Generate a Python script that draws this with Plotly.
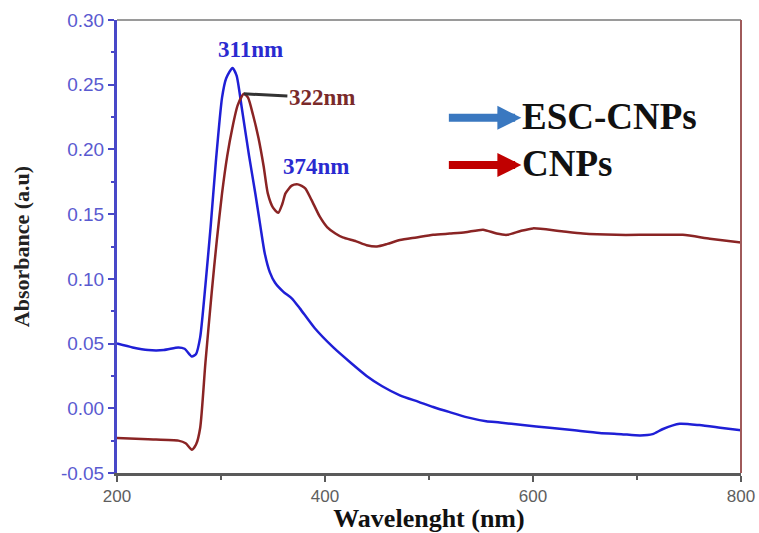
import plotly.graph_objects as go

# ESC-CNPs (blue)
esc_wl = [200, 215, 230, 245, 259, 265, 272, 276, 280, 285, 290, 295, 301, 305, 311,
          315, 320, 327, 333, 338, 342, 347, 352, 360, 368, 376, 390, 408, 425, 440,
          455, 472, 490, 504, 520, 537, 555, 568, 590, 616, 640, 664, 685, 703, 715,
          725, 741, 760, 780, 800]
esc_abs = [0.050, 0.047, 0.045, 0.045, 0.047, 0.046, 0.040, 0.042, 0.055, 0.095, 0.140,
           0.190, 0.240, 0.255, 0.263, 0.257, 0.232, 0.195, 0.166, 0.140, 0.120, 0.105,
           0.097, 0.090, 0.085, 0.077, 0.062, 0.047, 0.035, 0.025, 0.017, 0.010, 0.005,
           0.001, -0.003, -0.007, -0.010, -0.011, -0.013, -0.015, -0.017, -0.019, -0.020,
           -0.021, -0.020, -0.016, -0.012, -0.013, -0.015, -0.017]

# CNPs (dark red)
cnp_wl = [200, 230, 259, 266, 272, 276, 280, 285, 291, 296, 301, 306, 311, 316, 322,
          326, 331, 336, 341, 345, 350, 355, 359, 362, 368, 374, 381, 387, 395, 402,
          410, 417, 430, 440, 450, 460, 472, 488, 504, 520, 535, 552, 565, 575, 588,
          600, 625, 648, 680, 710, 744, 770, 800]
cnp_abs = [-0.023, -0.024, -0.025, -0.027, -0.032, -0.028, -0.015, 0.035, 0.089, 0.130,
           0.166, 0.195, 0.217, 0.234, 0.243, 0.240, 0.226, 0.209, 0.187, 0.166, 0.155,
           0.151, 0.158, 0.166, 0.172, 0.173, 0.170, 0.161, 0.148, 0.140, 0.135, 0.132,
           0.129, 0.126, 0.125, 0.127, 0.130, 0.132, 0.134, 0.135, 0.136, 0.138, 0.135,
           0.134, 0.137, 0.139, 0.137, 0.135, 0.134, 0.134, 0.134, 0.131, 0.128]

x_ticks = [200, 400, 600, 800]
y_ticks = [-0.05, 0.00, 0.05, 0.10, 0.15, 0.20, 0.25, 0.30]
y_labels = ["-0.05", "0.00", "0.05", "0.10", "0.15", "0.20", "0.25", "0.30"]

BLUE = "#1f1fd6"
RED = "#8a2424"
SERIF = "Liberation Serif"

fig = go.Figure()
fig.add_trace(go.Scatter(x=esc_wl, y=esc_abs, mode="lines", name="ESC-CNPs",
                         line=dict(color=BLUE, width=2.5, shape="spline", smoothing=0.6)))
fig.add_trace(go.Scatter(x=cnp_wl, y=cnp_abs, mode="lines", name="CNPs",
                         line=dict(color=RED, width=2.5, shape="spline", smoothing=0.6)))

fig.update_layout(
    width=759, height=533, autosize=False,
    margin=dict(l=117, r=18, t=20, b=60, autoexpand=False),
    paper_bgcolor="white", plot_bgcolor="white",
    showlegend=False,
    xaxis=dict(range=[200, 800], tickvals=x_ticks, ticktext=[str(v) for v in x_ticks],
               automargin=False, ticklabeloverflow="allow",
               showgrid=False, zeroline=False, showline=True, linecolor="#5a5a5a",
               linewidth=3, ticks="outside", ticklen=6, tickwidth=2, tickcolor="#5a5a5a",
               tickfont=dict(family="Liberation Sans", size=17, color="#5e5e5e"),
               minor=dict(dtick=100, tick0=300, ticks="outside", ticklen=4, tickwidth=2,
                          tickcolor="#5a5a5a"),
               title=dict(text="<b>Wavelenght (nm)</b>",
                          font=dict(family=SERIF, size=26, color="#111"), standoff=0)),
    yaxis=dict(range=[-0.05, 0.30], tickvals=y_ticks, ticktext=y_labels,
               automargin=False, ticklabeloverflow="allow",
               showgrid=False, zeroline=False, showline=True, linecolor="#4848c8",
               linewidth=3, ticks="outside", ticklen=6, tickwidth=2, tickcolor="#4848c8",
               tickfont=dict(family="Liberation Sans", size=19, color="#5a5ad0"),
               minor=dict(dtick=0.05, tick0=-0.025, ticks="outside", ticklen=3, tickwidth=2,
                          tickcolor="#4848c8"),
               title=dict(text="<b>Absorbance (a.u)</b>",
                          font=dict(family=SERIF, size=22, color="#222"), standoff=26)),
)

# top and right frame
fig.add_shape(type="line", xref="paper", yref="paper", x0=0, x1=1, y0=1, y1=1,
              line=dict(color="#9a9a9a", width=2))
fig.add_shape(type="line", xref="paper", yref="paper", x0=1, x1=1, y0=0, y1=1,
              line=dict(color="#a05a5a", width=2))

# peak labels
fig.add_annotation(x=328, y=0.277, text="<b>311nm</b>", showarrow=False,
                   xanchor="center", yanchor="middle",
                   font=dict(family=SERIF, size=23, color="#2a2ad0"))
fig.add_annotation(x=322, y=0.243, text="<b>322nm</b>", showarrow=True, arrowhead=0,
                   arrowwidth=3, arrowcolor="#333", ax=78, ay=4,
                   font=dict(family=SERIF, size=23, color="#7a2a2a"))
fig.add_annotation(x=391, y=0.187, text="<b>374nm</b>", showarrow=False,
                   xanchor="center", yanchor="middle",
                   font=dict(family=SERIF, size=23, color="#2a2ad0"))

# legend-style arrows
fig.add_annotation(xref="paper", yref="paper", x=0.648, y=0.784, ax=-74, ay=0,
                   text="", showarrow=True, arrowhead=2, arrowsize=0.6, arrowwidth=8,
                   arrowcolor="#3a78c0")
fig.add_annotation(xref="paper", yref="paper", x=0.648, y=0.680, ax=-74, ay=0,
                   text="", showarrow=True, arrowhead=2, arrowsize=0.6, arrowwidth=8,
                   arrowcolor="#c00000")
fig.add_annotation(xref="paper", yref="paper", x=0.646, y=0.786, xanchor="left",
                   yanchor="middle", text="<b>ESC-CNPs</b>", showarrow=False,
                   font=dict(family=SERIF, size=37, color="#111"))
fig.add_annotation(xref="paper", yref="paper", x=0.646, y=0.684, xanchor="left",
                   yanchor="middle", text="<b>CNPs</b>", showarrow=False,
                   font=dict(family=SERIF, size=37, color="#111"))

post = ("document.body.style.margin='0';"
        "document.body.style.overflow='hidden';"
        "document.documentElement.style.overflow='hidden';")
fig.write_html("out.html", config={"displayModeBar": False, "responsive": False},
               post_script=post)
